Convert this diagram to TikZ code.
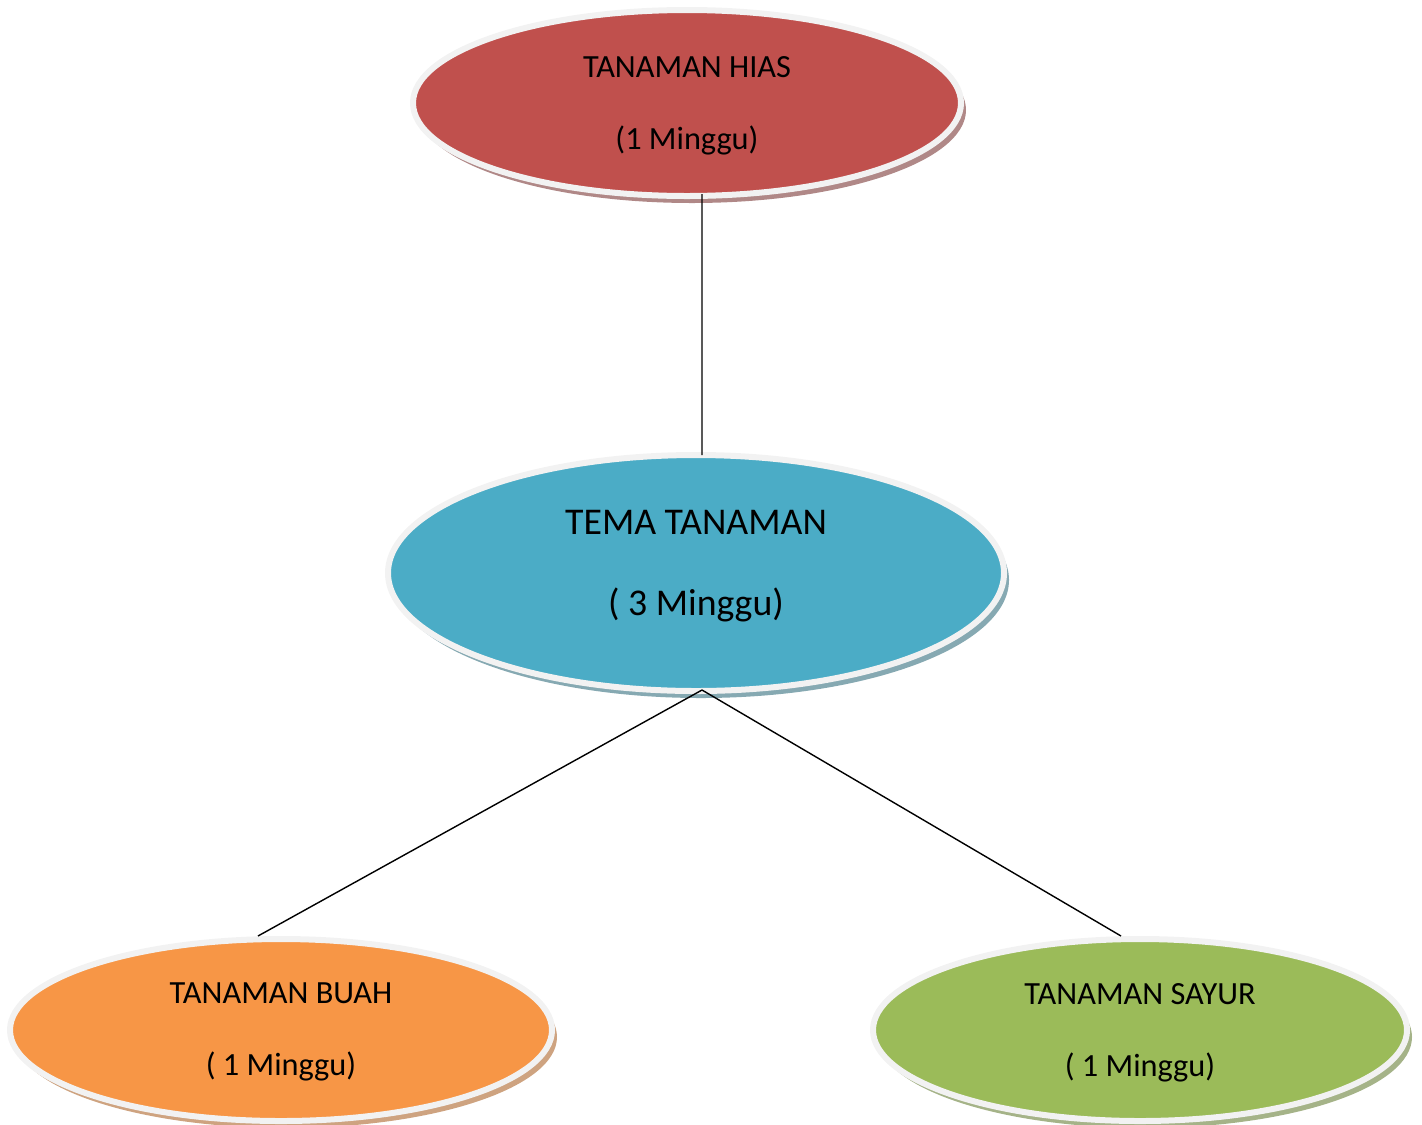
\documentclass[tikz,border=0pt]{standalone}
\usepackage{fontspec}
\setmainfont{Carlito}
\usetikzlibrary{shapes.geometric, shadows, positioning}

\definecolor{hiasred}{HTML}{C0504D}
\definecolor{temablue}{HTML}{4BACC6}
\definecolor{buahorange}{HTML}{F79646}
\definecolor{sayurgreen}{HTML}{9BBB59}
\definecolor{rimgray}{HTML}{F2F2F2}

\begin{document}
\begin{tikzpicture}[
    bubble/.style={ellipse, draw=rimgray, line width=0.12cm, align=center,
        inner sep=0pt, text=black},
    smallbubble/.style={bubble, font=\fontsize{18.4}{41}\selectfont, text depth=0.5pt},
    bigbubble/.style={bubble, font=\fontsize{21.5}{46}\selectfont, text depth=12pt},
    link/.style={black, line width=0.8pt}
]
\useasboundingbox (0,0) rectangle (28.44,-22.48);
\node (hias) at (13.74,-2.06)[smallbubble, fill=hiasred, minimum width=10.96cm, minimum height=3.72cm,
    drop shadow={shadow xshift=0.1cm, shadow yshift=-0.14cm, fill=hiasred!45!gray!80, opacity=1}]
    {TANAMAN HIAS\\(1 Minggu)};
\node (tema) at (13.92,-11.46)[bigbubble, fill=temablue, minimum width=12.32cm, minimum height=4.72cm,
    drop shadow={shadow xshift=0.1cm, shadow yshift=-0.14cm, fill=temablue!45!gray!80, opacity=1}]
    {TEMA TANAMAN\\( 3 Minggu)};
\node (buah) at (5.62,-20.6)[smallbubble, fill=buahorange, minimum width=10.84cm, minimum height=3.64cm,
    drop shadow={shadow xshift=0.1cm, shadow yshift=-0.14cm, fill=buahorange!55!gray!80, opacity=1}]
    {TANAMAN BUAH\\( 1 Minggu)};
\node (sayur) at (22.8,-20.6)[smallbubble, fill=sayurgreen, minimum width=10.68cm, minimum height=3.64cm,
    drop shadow={shadow xshift=0.1cm, shadow yshift=-0.14cm, fill=sayurgreen!55!gray!80, opacity=1}]
    {TANAMAN SAYUR\\( 1 Minggu)};
% connectors
\draw[link] ([xshift=0.3cm, yshift=0.1cm]hias.south) -- ([xshift=0.12cm, yshift=-0.06cm]tema.north);
\draw[link] ([xshift=0.12cm, yshift=0.08cm]tema.south) -- ([xshift=-0.46cm]buah.north);
\draw[link] ([xshift=0.12cm, yshift=0.08cm]tema.south) -- ([xshift=-0.38cm]sayur.north);
\end{tikzpicture}
\end{document}
